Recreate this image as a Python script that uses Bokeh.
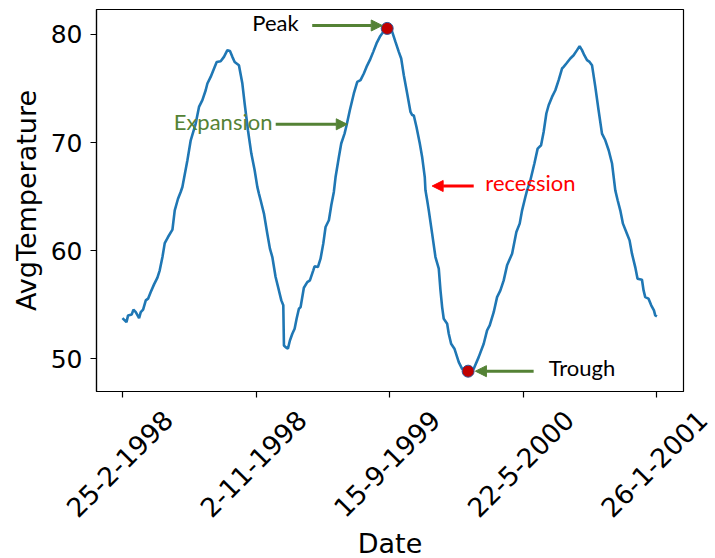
import math
from bokeh.plotting import figure
from bokeh.layouts import column
from bokeh.models import Range1d, FixedTicker, Label, Arrow, NormalHead
from bokeh.core.properties import value
from bokeh.embed import file_html
from bokeh.resources import INLINE

# ---------------- data ----------------
# x = observation index (0..1000), labelled with dates at fixed ticks
day_index = [0, 7.5, 10.5, 17.4, 20.5, 24.9, 31.1, 34.2, 38.6, 43.6, 47.9, 52.9, 59.1, 65.4,
             69.7, 74.8, 79.1, 85.2, 93.5, 97.8, 103.9, 108.9, 112.1, 121.5, 127.7, 137,
             143.2, 149.5, 155.7, 158.9, 165, 172.5, 176.3, 183.7, 189.9, 196.3, 201.1,
             205.6, 209.9, 217.9, 224.3, 228.6, 234.8, 241.1, 247.3, 252.3, 255.3, 258.5,
             264.7, 271, 275.9, 280.4, 286.5, 292.7, 297.2, 300.9, 302.1, 305.2, 309.5,
             313.3, 317.8, 322.1, 325.8, 330.1, 333.3, 339.4, 345.8, 350.7, 357, 359.4,
             365.6, 370.6, 375.7, 380, 386.2, 390.7, 395.5, 398.7, 404.9, 409.3, 415.5,
             419.3, 425.4, 432.9, 439.3, 445.4, 451.6, 456.6, 462.8, 469.2, 475.3, 481.5,
             487.9, 495.3, 504.7, 510.8, 517, 521.5, 526.4, 532.7, 538.9, 542.1, 545,
             550.1, 556.3, 560.7, 565.6, 566.9, 570.1, 573.1, 579.4, 585.6, 591.8, 595,
             598.1, 601.1, 607.5, 610.5, 614.9, 621.1, 629.2, 635.5, 646.7, 657.2, 666.5,
             675.9, 682.2, 687.1, 694.6, 700.9, 707.1, 713.3, 719.6, 729, 737, 743.2,
             747.7, 753.8, 757, 763.2, 770.7, 776.8, 783.2, 788, 793.1, 797.4, 803.7,
             809.9, 816.1, 822.4, 825.4, 830.5, 837.9, 844.1, 850.5, 855.3, 859.8, 864.1,
             869.2, 874, 878.5, 884.7, 890.8, 897.2, 903.4, 909.7, 916, 922.1, 926.5,
             931.4, 936.4, 943.9, 948.8, 953.3, 959.4, 963.7, 972, 975, 978.1, 984.3,
             989.3, 994.4, 996.8, 1000]
avg_temp = [53.76, 53.39, 54.01, 54.10, 54.54, 54.31, 53.76, 54.31, 54.54, 55.40, 55.56,
            56.17, 56.88, 57.50, 58.18, 59.41, 60.70, 61.26, 61.94, 63.73, 64.80, 65.43,
            65.89, 68.36, 70.21, 71.76, 73.30, 73.92, 74.84, 75.46, 76.07, 77.00, 77.46,
            77.53, 77.93, 78.55, 78.48, 77.93, 77.46, 77.16, 75.46, 73.61, 71.14, 68.98,
            67.44, 65.90, 65.28, 64.66, 63.43, 61.57, 60.19, 59.41, 57.56, 56.32, 55.40,
            54.94, 51.23, 51.08, 50.93, 51.69, 52.31, 52.78, 53.70, 54.63, 54.78, 56.57,
            57.09, 57.25, 58.18, 58.55, 58.48, 59.26, 60.65, 62.19, 62.81, 64.20, 65.43,
            66.81, 68.67, 69.91, 70.83, 71.60, 72.99, 74.54, 75.61, 75.77, 76.39, 77.00,
            77.62, 78.39, 79.17, 79.78, 80.24, 80.56, 80.24, 79.31, 78.39, 77.78, 76.23,
            74.54, 72.83, 72.53, 72.53, 71.44, 69.91, 68.67, 66.81, 65.58, 64.66, 63.73,
            61.57, 59.41, 58.33, 56.32, 54.78, 53.70, 53.24, 52.31, 51.39, 50.93, 49.69,
            49.07, 48.85, 49.07, 50.15, 51.39, 52.62, 53.08, 54.31, 55.70, 56.32, 57.25,
            58.64, 59.72, 61.72, 62.50, 63.73, 64.96, 65.58, 66.51, 68.06, 69.44, 69.75,
            70.98, 72.69, 73.45, 74.22, 74.84, 75.77, 76.85, 77.00, 77.31, 77.78, 78.08,
            78.55, 78.92, 78.55, 78.08, 77.62, 77.46, 77.16, 75.15, 72.99, 70.83, 70.21,
            69.29, 68.06, 65.58, 64.66, 63.73, 62.50, 61.57, 60.95, 59.72, 58.48, 57.41,
            57.31, 56.32, 55.70, 55.56, 54.94, 54.47, 54.01, 53.92]

tick_positions = [0, 250, 500, 750, 1000]
tick_labels = ["25-2-1998", "2-11-1998", "15-9-1999", "22-5-2000", "26-1-2001"]
y_ticks = [50, 60, 70, 80]

peak_point = (495.3, 80.56)
trough_point = (646.7, 48.85)

# ---------------- layout constants ----------------
W = 715
LEFT, RIGHT, TOP = 96, 32, 9
MAIN_H = 399          # main chart canvas height (frame bottom at 391)
BOTTOM = 8
LAB_H = 558 - MAIN_H  # strip holding the rotated date labels
X0, X1 = -48.6, 1049.7
Y0, Y1 = 46.97, 82.31

p = figure(width=W, height=MAIN_H, output_backend="svg", toolbar_location=None,
           x_range=Range1d(X0, X1), y_range=Range1d(Y0, Y1),
           min_border_left=LEFT, min_border_right=RIGHT, min_border_top=TOP,
           min_border_bottom=BOTTOM)
p.frame_align = False
p.background_fill_color = "white"
p.border_fill_color = "white"
p.outline_line_color = "black"
p.outline_line_width = 1.2
p.xgrid.visible = False
p.ygrid.visible = False

for ax in (p.xaxis, p.yaxis):
    ax.axis_line_color = "black"
    ax.axis_line_width = 1.2
    ax.major_tick_line_color = "black"
    ax.major_tick_line_width = 1.2
    ax.major_tick_out = 6
    ax.major_tick_in = 0
    ax.minor_tick_line_color = None

p.xaxis.ticker = FixedTicker(ticks=tick_positions)
p.xaxis.major_label_overrides = {t: "" for t in tick_positions}
p.xaxis.major_label_text_font_size = "1px"
p.xaxis.major_label_standoff = 0

p.yaxis.ticker = FixedTicker(ticks=y_ticks)
p.yaxis.major_label_text_font = "DejaVu Sans"
p.yaxis.major_label_text_font_size = "25px"
p.yaxis.major_label_text_color = "black"
p.yaxis.major_label_standoff = 8
p.yaxis.axis_label = "AvgTemperature"
p.yaxis.axis_label_text_font = "DejaVu Sans"
p.yaxis.axis_label_text_font_size = "27px"
p.yaxis.axis_label_text_font_style = "normal"
p.yaxis.axis_label_text_color = "black"
p.yaxis.axis_label_standoff = 6

# series
p.line(day_index, avg_temp, line_color="#1f77b4", line_width=2.6)

# annotations
GREEN = "#548235"
RED = "#ff0000"

def arrow(x0, y0, x1, y1, color):
    p.add_layout(Arrow(end=NormalHead(size=11, fill_color=color, line_color=color, line_width=1),
                       x_start=x0, y_start=y0, x_end=x1, y_end=y1,
                       line_color=color, line_width=3))

def note(x, y, text, color):
    p.add_layout(Label(x=x, y=y, text=text, text_font="Lato", text_font_size="22px",
                       text_color=color, text_baseline="middle", text_align="left"))

arrow(355, 80.83, 486, 80.83, GREEN)
arrow(286.7, 71.69, 420.6, 71.69, GREEN)
arrow(657.2, 65.98, 579.4, 65.98, RED)
arrow(769.3, 48.85, 660.4, 48.85, GREEN)

note(243, 81.08, "Peak", "black")
note(95.8, 71.94, "Expansion", GREEN)
note(679, 66.32, "recession", RED)
note(797.4, 49.17, "Trough", "black")

p.scatter([peak_point[0], trough_point[0]], [peak_point[1], trough_point[1]],
          size=12, fill_color="#c00000", line_color="#2f5597", line_width=1)

# ---------------- strip with centred, rotated date labels ----------------
scale = (W - LEFT - RIGHT) / (X1 - X0)
q = figure(width=W, height=LAB_H, output_backend="svg", toolbar_location=None,
           x_range=Range1d(X0 - LEFT / scale, X1 + RIGHT / scale),
           y_range=Range1d(0, LAB_H), x_axis_location=None, y_axis_location=None,
           min_border_left=0, min_border_right=0, min_border_top=0, min_border_bottom=0)
q.frame_align = False
q.grid.visible = False
q.outline_line_color = None
q.background_fill_color = "white"
q.border_fill_color = "white"
q.text(x=tick_positions, y=[95] * len(tick_positions), text=tick_labels,
       angle=math.pi / 4, text_align="center", text_baseline="middle", x_offset=-3,
       text_font=value("DejaVu Sans"), text_font_size=value("26.5px"), text_color="black")
q.text(x=[(X0 + X1) / 2], y=[15], text=["Date"], text_align="center",
       text_baseline="middle", text_font=value("DejaVu Sans"),
       text_font_size=value("27px"), text_color="black")

layout = column(p, q, spacing=0)
open("out.html", "w").write(file_html(layout, INLINE))
